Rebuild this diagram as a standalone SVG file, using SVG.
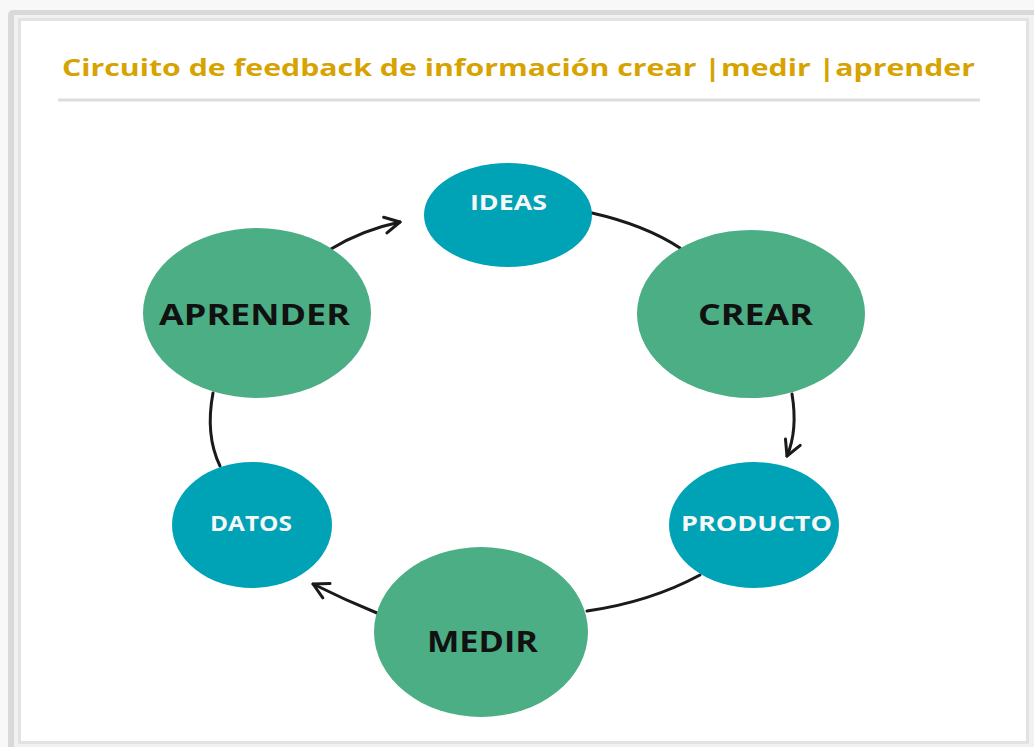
<svg xmlns="http://www.w3.org/2000/svg" width="1034" height="747" viewBox="0 0 1034 747">
<style>
.title{font-family:"Open Sans","Liberation Sans",sans-serif;font-weight:bold;font-size:23px;fill:#d6a300}
.lbl{font-family:"Open Sans","Liberation Sans",sans-serif;font-weight:bold;text-anchor:middle}
.big{font-size:28px;fill:#111}
.small{font-size:21px;fill:#f7f7f7}
.green{fill:#4bae84}
.teal{fill:#00a2b6}
.conn{fill:none;stroke:#1a1a1a;stroke-width:3;stroke-linecap:round}
</style>
<defs>
<marker id="arr" viewBox="0 0 20 20" refX="18" refY="10" markerWidth="20" markerHeight="20" markerUnits="userSpaceOnUse" orient="auto">
<path d="M3,2 L18,10 L3,18" fill="none" stroke="#1a1a1a" stroke-width="3" stroke-linecap="round" stroke-linejoin="round"/>
</marker>
</defs>
<rect x="0" y="0" width="1034" height="747" fill="#f8f8f8"/>
<rect x="8" y="10" width="1040" height="745" rx="5" fill="#d9d9d9"/>
<rect x="14" y="15" width="1030" height="740" fill="#f1f1f1"/>
<rect x="19.5" y="19.5" width="1008" height="723" fill="#ffffff" stroke="#e2e2e2" stroke-width="3"/>
<g id="title">
<text class="title" x="62" y="76" textLength="913" lengthAdjust="spacingAndGlyphs">Circuito de feedback de información crear |medir |aprender</text>
<line x1="58" y1="100" x2="980" y2="100" stroke="#dddddd" stroke-width="3"/>
</g>
<g id="connectors">
<path class="conn" d="M331,249 Q362,230 400,222" marker-end="url(#arr)"/>
<path class="conn" d="M592,213 Q645,225 680,248"/>
<path class="conn" d="M792,394 Q798,430 787,456" marker-end="url(#arr)"/>
<path class="conn" d="M700,575 Q650,602 587,611"/>
<path class="conn" d="M377,613 Q345,600 313,584" marker-end="url(#arr)"/>
<path class="conn" d="M213,393 Q205,435 220,466"/>
</g>
<g id="ideas">
<ellipse class="teal" cx="508" cy="215" rx="84" ry="52"/>
<text class="lbl small" x="508.5" y="210" textLength="77" lengthAdjust="spacingAndGlyphs">IDEAS</text>
</g>
<g id="crear">
<ellipse class="green" cx="751" cy="314" rx="114" ry="84"/>
<text class="lbl big" x="755.5" y="325" textLength="115" lengthAdjust="spacingAndGlyphs">CREAR</text>
</g>
<g id="producto">
<ellipse class="teal" cx="754" cy="525" rx="85" ry="63"/>
<text class="lbl small" x="756.5" y="531" textLength="151" lengthAdjust="spacingAndGlyphs">PRODUCTO</text>
</g>
<g id="medir">
<ellipse class="green" cx="481" cy="632" rx="107" ry="85"/>
<text class="lbl big" x="482.5" y="652" textLength="111" lengthAdjust="spacingAndGlyphs">MEDIR</text>
</g>
<g id="datos">
<ellipse class="teal" cx="252" cy="525" rx="80" ry="63"/>
<text class="lbl small" x="251" y="531" textLength="82" lengthAdjust="spacingAndGlyphs">DATOS</text>
</g>
<g id="aprender">
<ellipse class="green" cx="257" cy="313" rx="114" ry="85"/>
<text class="lbl big" x="254.5" y="325" textLength="191" lengthAdjust="spacingAndGlyphs">APRENDER</text>
</g>
</svg>
